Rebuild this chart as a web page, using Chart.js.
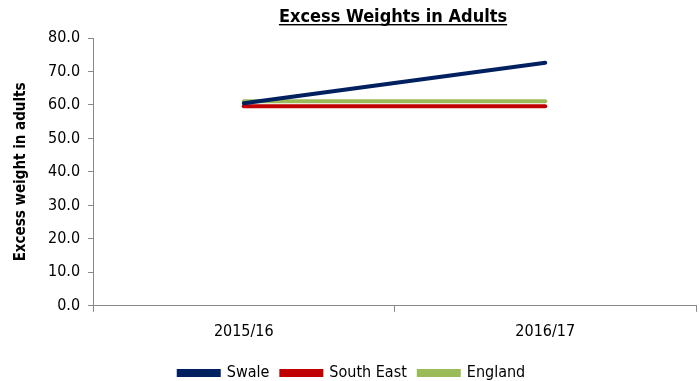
<!DOCTYPE html>
<html>
<head>
<meta charset="utf-8">
<script src="https://cdn.jsdelivr.net/npm/chart.js@4"></script>
<style>
  html, body { margin: 0; padding: 0; background: #fff; }
  #wrap { width: 700px; height: 381px; }
</style>
</head>
<body>
<div id="wrap"><canvas id="chart"></canvas></div>
<script>
const years = ["2015/16", "2016/17"];
const swale = [60.5, 72.6];
const southEast = [59.6, 59.6];
const england = [61.1, 61.1];
const yTicks = [0, 10, 20, 30, 40, 50, 60, 70, 80];

const FONT = "'Liberation Sans Narrow', 'DejaVu Sans Condensed', sans-serif";

// underlined bold title above the plot
const titlePlugin = {
    id: "underlinedTitle",
    afterDraw(chart) {
        const ctx = chart.ctx;
        const text = "Excess Weights in Adults";
        ctx.save();
        ctx.font = "bold 18px " + FONT;
        ctx.fillStyle = "#000";
        ctx.textAlign = "center";
        ctx.textBaseline = "alphabetic";
        const cx = 393, cy = 22;
        ctx.fillText(text, cx, cy);
        const w = ctx.measureText(text).width;
        ctx.fillRect(cx - w / 2, cy + 2, w, 1.4);
        ctx.restore();
    }
};

new Chart(document.getElementById("chart"), {
    type: "line",
    data: {
        labels: years,
        datasets: [
            { label: "Swale", data: swale, borderColor: "#002060", backgroundColor: "#002060" },
            { label: "South East", data: southEast, borderColor: "#C00000", backgroundColor: "#C00000" },
            { label: "England", data: england, borderColor: "#9BBB59", backgroundColor: "#9BBB59" }
        ]
    },
    options: {
        responsive: true,
        maintainAspectRatio: false,
        animation: false,
        layout: { padding: { top: 38, right: 4, left: 8, bottom: -10 } },
        elements: {
            line: { borderWidth: 4, tension: 0, borderCapStyle: "round" },
            point: { radius: 0 }
        },
        plugins: {
            title: { display: false },
            tooltip: { enabled: false },
            legend: {
                position: "bottom",
                labels: {
                    font: { family: FONT, size: 16 },
                    color: "#000",
                    boxWidth: 40,
                    boxHeight: 4,
                    padding: 12
                }
            }
        },
        scales: {
            x: {
                offset: true,
                afterFit(scale) { scale.height += 2; },
                grid: { offset: true, drawOnChartArea: false, drawTicks: true, tickLength: 6, color: "#888" },
                border: { color: "#888", width: 1 },
                ticks: { font: { family: FONT, size: 16 }, color: "#000", padding: 10 }
            },
            y: {
                min: 0,
                max: 80,
                afterBuildTicks(axis) { axis.ticks = yTicks.map(v => ({ value: v })); },
                grid: { drawOnChartArea: false, drawTicks: true, tickLength: 5, color: "#888" },
                border: { color: "#888", width: 1 },
                ticks: {
                    font: { family: FONT, size: 16 },
                    color: "#000",
                    padding: 8,
                    callback: v => v.toFixed(1)
                },
                title: {
                    display: true,
                    text: "Excess weight in adults",
                    font: { family: FONT, size: 15, weight: "bold" },
                    color: "#000",
                    padding: { bottom: 10 }
                }
            }
        }
    },
    plugins: [titlePlugin]
});
</script>
</body>
</html>
